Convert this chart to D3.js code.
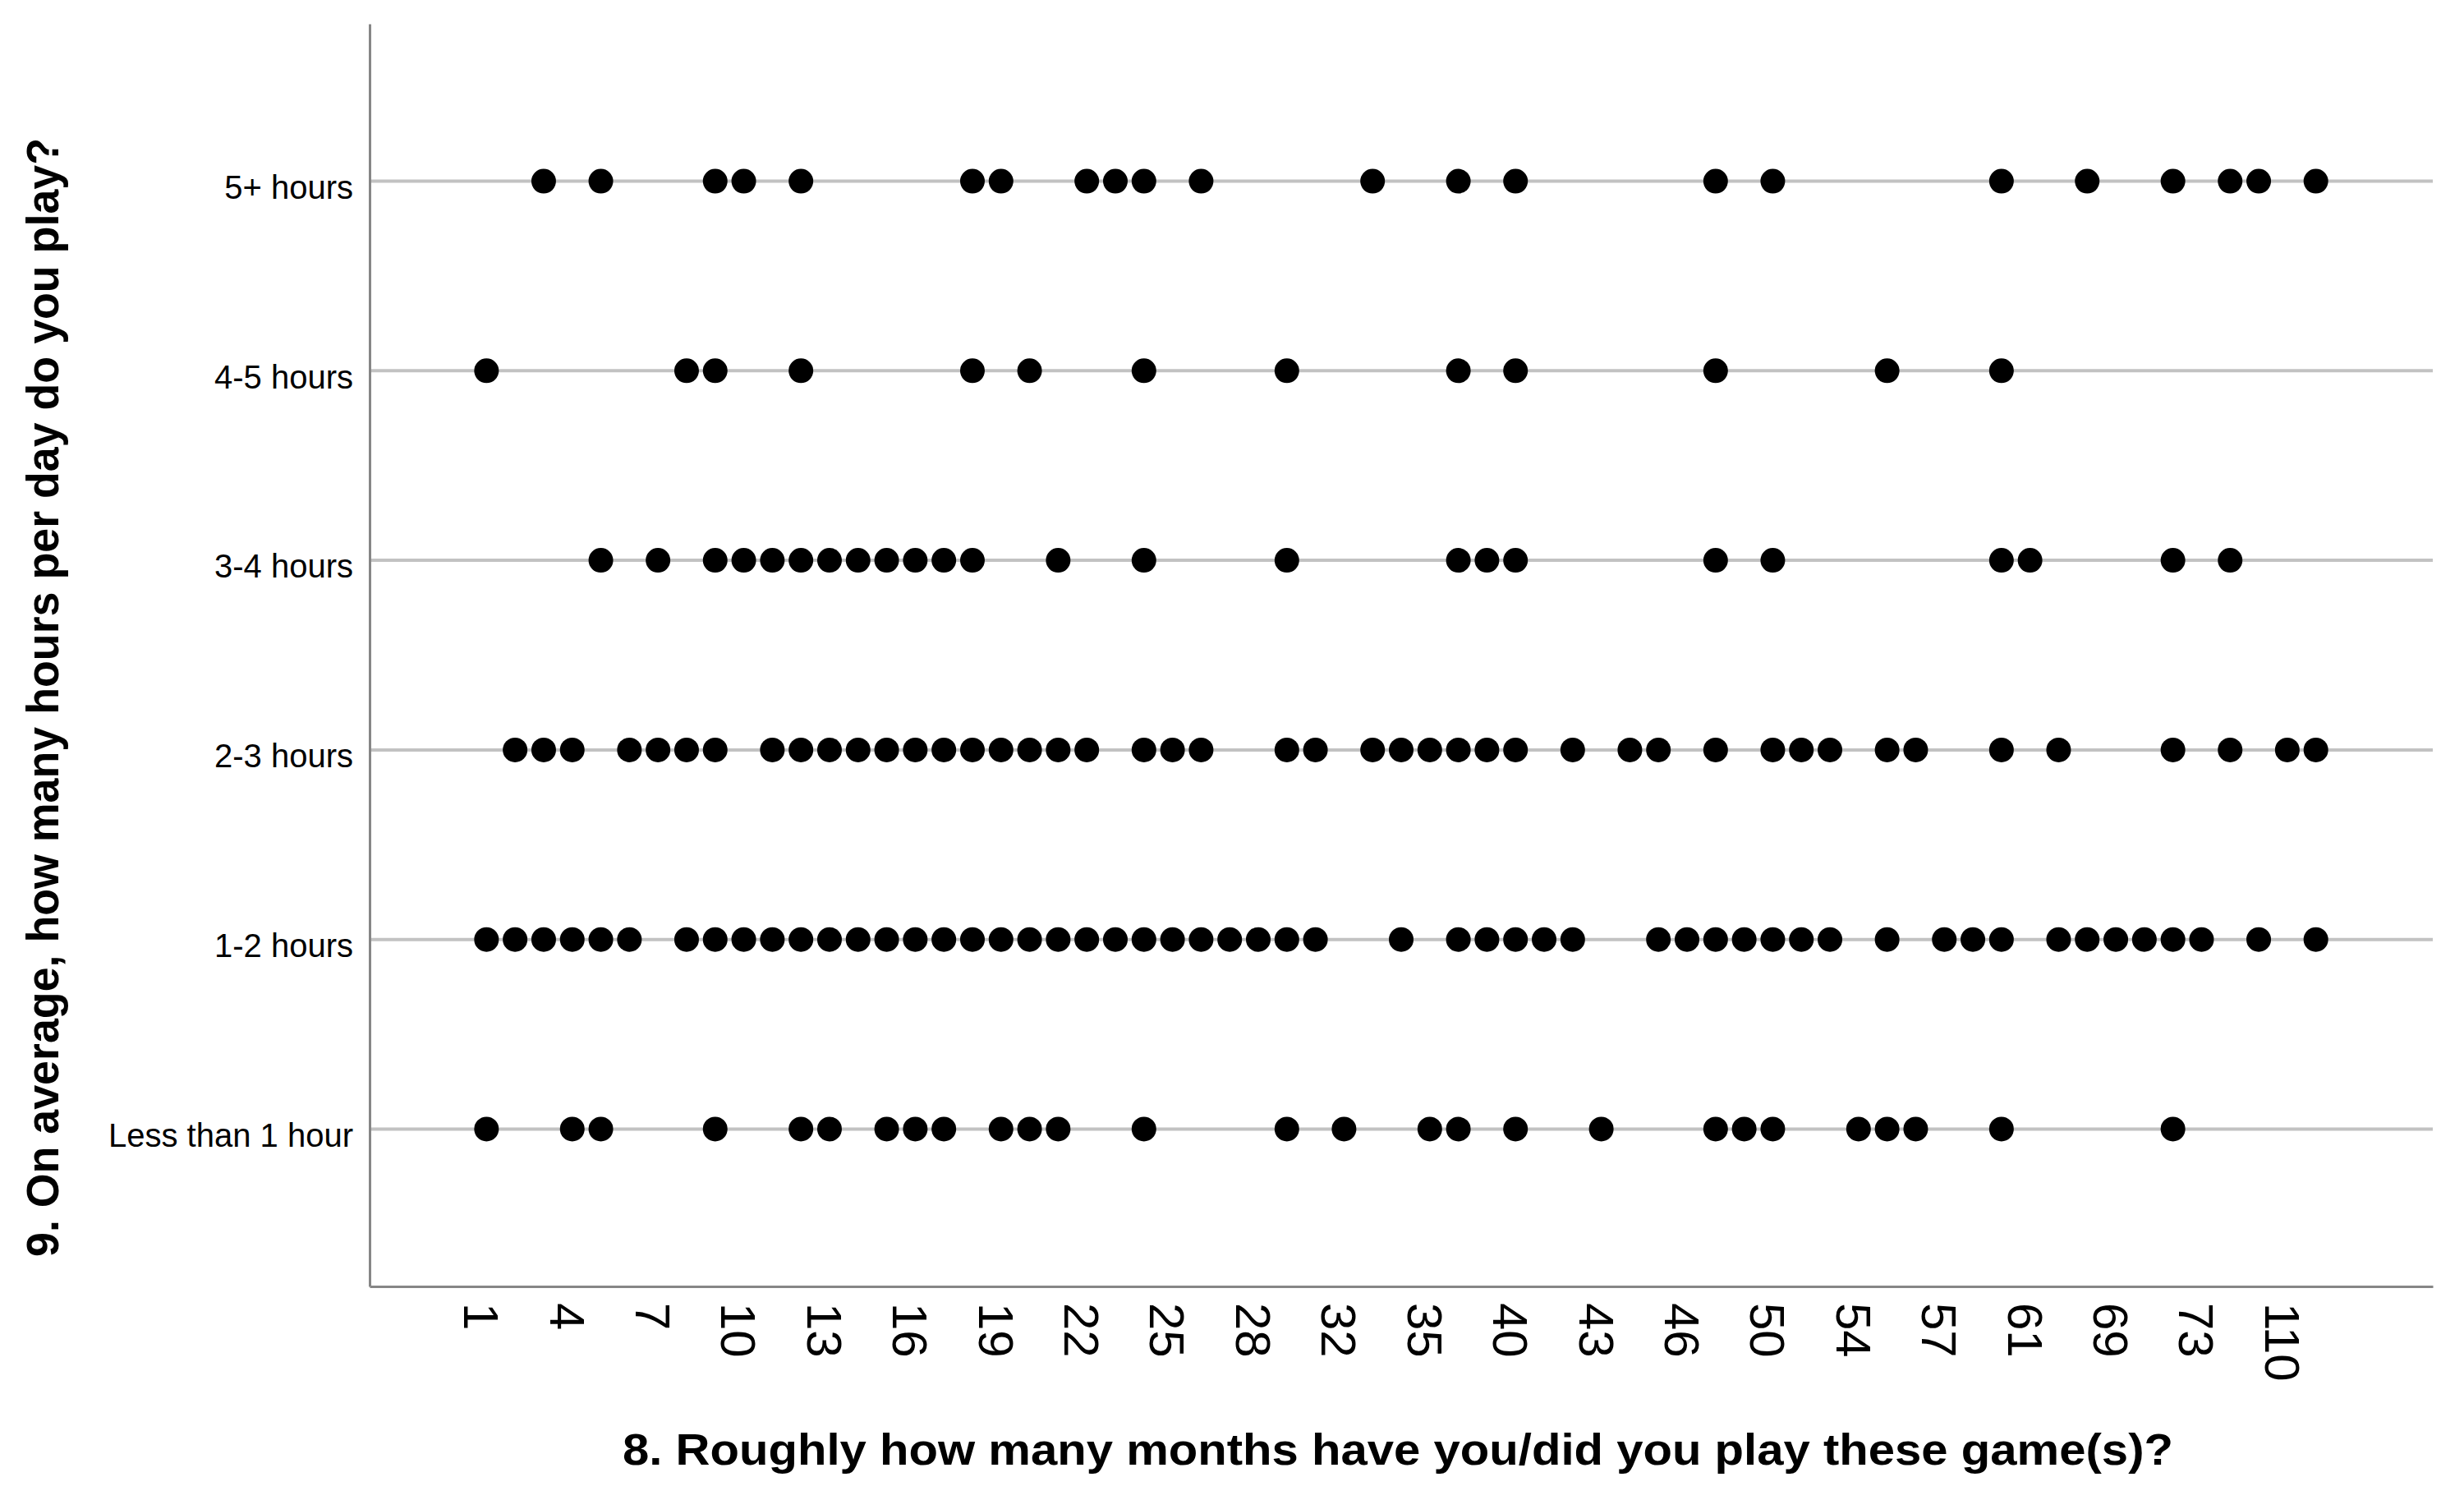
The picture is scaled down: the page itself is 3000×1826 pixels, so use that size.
<!DOCTYPE html>
<html>
<head>
<meta charset="utf-8">
<script src="https://cdn.jsdelivr.net/npm/d3@7"></script>
<style>
  html, body { margin: 0; padding: 0; background: #ffffff; }
  svg { display: block; }
  text { font-family: "Liberation Sans", Arial, Helvetica, sans-serif; fill: #000; }
</style>
</head>
<body>
<svg id="chart" width="3000" height="1826"></svg>
<script>
// ---- Data ----
// Distinct answers to "months played" (x categories, in order)
const categories = [1,2,3,4,5,6,7,8,9,10,11,12,13,14,15,16,17,18,19,20,21,22,23,24,25,26,27,28,
  30,31,32,33,34,35,36,38,40,41,42,43,44,45,46,48,49,50,51,52,54,55,56,57,58,60,61,63,66,69,70,72,73,84,96,110,120];
// Tick labels shown on the x axis (every third category)
const tickLabels = ["1","4","7","10","13","16","19","22","25","28","32","35","40","43","46","50","54","57","61","69","73","110"];
// Hours per day categories (top to bottom)
const hourLevels = ["5+ hours","4-5 hours","3-4 hours","2-3 hours","1-2 hours","Less than 1 hour"];

// Months values observed for each hours category
const months5plus  = [3,5,9,10,12,18,19,22,23,24,26,33,36,40,48,50,60,66,72,84,96,120];
const months4to5   = [1,8,9,12,18,20,24,30,36,40,48,55,60];
const months3to4   = [5,7,9,10,11,12,13,14,15,16,17,18,21,24,30,36,38,40,48,50,60,61,72,84];
const months2to3   = [2,3,4,6,7,8,9,11,12,13,14,15,16,17,18,19,20,21,22,24,25,26,30,31,33,34,35,36,38,40,42,44,45,48,50,51,52,55,56,60,63,72,84,110,120];
const months1to2   = [1,2,3,4,5,6,8,9,10,11,12,13,14,15,16,17,18,19,20,21,22,23,24,25,26,27,28,30,31,34,36,38,40,41,42,45,46,48,49,50,51,52,55,57,58,60,63,66,69,70,72,73,96,120];
const monthsLess1  = [1,4,5,9,12,13,15,16,17,19,20,21,24,30,32,35,36,40,43,48,49,50,54,55,56,60,72];

const seriesByLevel = [months5plus, months4to5, months3to4, months2to3, months1to2, monthsLess1];

const xTitle = "8. Roughly how many months have you/did you play these game(s)?";
const yTitle = "9. On average, how many hours per day do you play?";

(function () {
  // ---- Build point table ----
  const points = [];
  hourLevels.forEach((lvl, i) => {
    seriesByLevel[i].forEach(m => points.push({ level: lvl, months: m }));
  });

  // ---- Layout ----
  const svg = d3.select("#chart");
  const plotLeft = 450, plotRight = 2962, plotTop = 29, plotBottom = 1566;

  const x = d3.scalePoint().domain(categories).range([plotLeft, plotRight]).padding(4.09);
  const y = d3.scalePoint().domain(hourLevels).range([plotTop, plotBottom]).padding(0.83);

  // Horizontal reference lines at each category
  svg.append("g")
    .selectAll("line")
    .data(hourLevels)
    .join("line")
    .attr("x1", plotLeft)
    .attr("x2", plotRight)
    .attr("y1", d => y(d))
    .attr("y2", d => y(d))
    .attr("stroke", "#c2c2c2")
    .attr("stroke-width", 4);

  // Points
  svg.append("g")
    .selectAll("circle")
    .data(points)
    .join("circle")
    .attr("cx", d => x(d.months))
    .attr("cy", d => y(d.level))
    .attr("r", 15)
    .attr("fill", "#000");

  // X axis
  const xAxis = svg.append("g")
    .attr("transform", `translate(0,${plotBottom})`)
    .call(d3.axisBottom(x).tickValues(tickLabels.map(Number)).tickSize(0).tickSizeOuter(0));
  xAxis.select(".domain").attr("stroke", "#868686").attr("stroke-width", 3);
  xAxis.selectAll(".tick text")
    .attr("font-size", 60)
    .attr("font-family", "Liberation Sans, Arial, sans-serif")
    .attr("fill", "#000")
    .attr("text-anchor", "start")
    .attr("transform", "rotate(90)")
    .attr("x", 20)
    .attr("y", 0)
    .attr("dy", "0.46em");

  // Y axis
  const yAxis = svg.append("g")
    .attr("transform", `translate(${plotLeft},0)`)
    .call(d3.axisLeft(y).tickSize(0).tickSizeOuter(0).tickPadding(20));
  yAxis.select(".domain").attr("stroke", "#868686").attr("stroke-width", 3);
  yAxis.selectAll(".tick text")
    .attr("font-size", 40)
    .attr("font-family", "Liberation Sans, Arial, sans-serif")
    .attr("fill", "#000")
    .attr("dy", "0.52em");

  // Axis titles
  svg.append("text")
    .attr("x", (plotLeft + plotRight) / 2 - 4)
    .attr("y", 1783)
    .attr("text-anchor", "middle")
    .attr("font-size", 54)
    .attr("font-weight", "bold")
    .attr("textLength", 1888)
    .attr("lengthAdjust", "spacingAndGlyphs")
    .text(xTitle);

  svg.append("text")
    .attr("transform", "translate(71,849) rotate(-90)")
    .attr("text-anchor", "middle")
    .attr("font-size", 56)
    .attr("font-weight", "bold")
    .attr("textLength", 1362)
    .attr("lengthAdjust", "spacingAndGlyphs")
    .text(yTitle);
})();
</script>
</body>
</html>
